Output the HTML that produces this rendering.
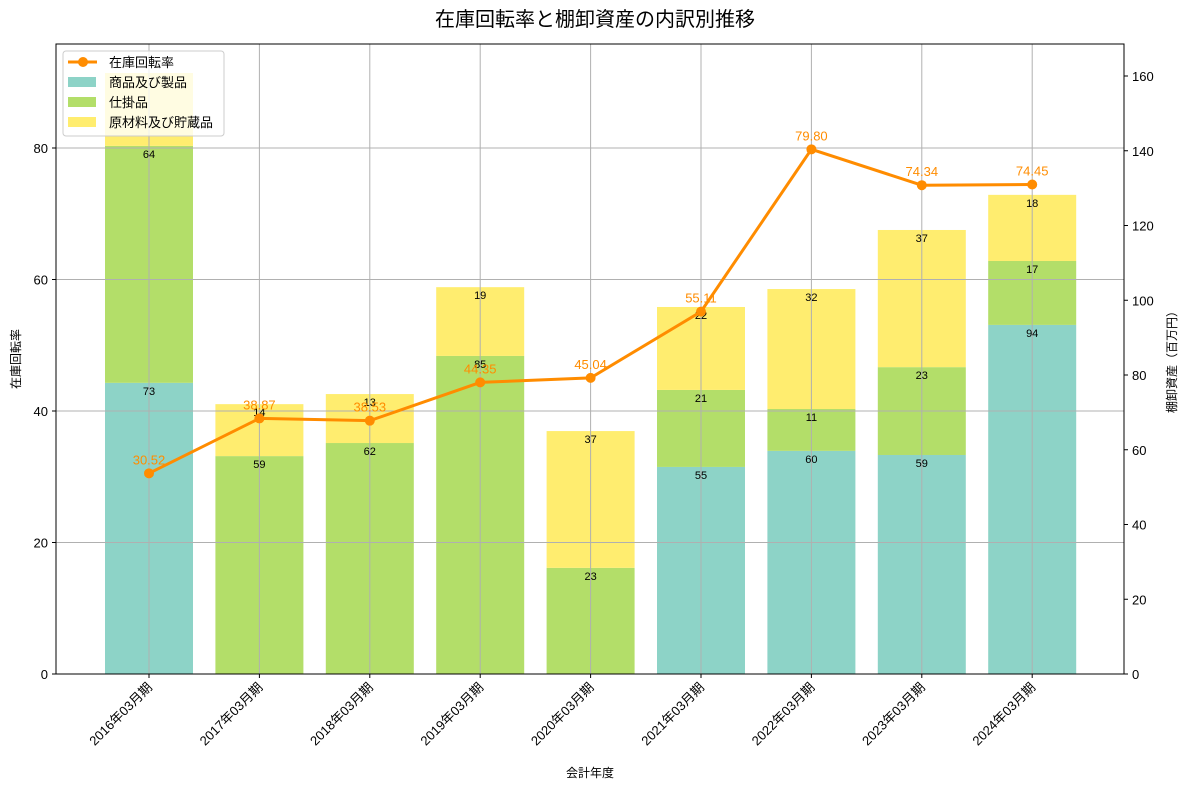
<!DOCTYPE html>
<html><head><meta charset="utf-8"><style>
body{margin:0;background:#fff}
svg text{font-family:"Liberation Sans","Noto Sans CJK JP",sans-serif}
</style></head><body>
<svg id="chart" width="1190" height="789" xmlns="http://www.w3.org/2000/svg"></svg>
<script>
const categories=["2016年03月期","2017年03月期","2018年03月期","2019年03月期","2020年03月期","2021年03月期","2022年03月期","2023年03月期","2024年03月期"];
const goods=[77.9,0,0,0,0,55.4,59.7,58.6,93.4];
const wip=[63.4,58.3,61.8,85.1,28.4,20.6,11.2,23.5,17.1];
const raw=[19.5,13.9,13.1,18.4,36.6,22.2,32.1,36.7,17.7];
const goodsLabels=["73","","","","","55","60","59","94"];
const wipLabels=["64","59","62","85","23","21","11","23","17"];
const rawLabels=["","14","13","19","37","22","32","37","18"];
const turnover=[30.52,38.87,38.53,44.35,45.04,55.11,79.80,74.34,74.45];
const leftTicks=[0,20,40,60,80];
const rightTicks=[0,20,40,60,80,100,120,140,160];

const svg=document.getElementById('chart');
const NS="http://www.w3.org/2000/svg";
const X0=56,X1=1124,Y0=674,Y1=44;
const yL=v=>Y0-v*6.575;
const yR=v=>Y0-v*3.7375;
const xC=i=>149+i*110.4;
const BW=88;
function mk(tag,attrs,parent,name,txt){const e=document.createElementNS(NS,tag);for(const k in attrs)e.setAttribute(k,attrs[k]);


if(txt!==undefined)e.textContent=txt;(parent||svg).appendChild(e);return e;}

mk('text',{x:595,y:26,'text-anchor':'middle','font-size':20,fill:'#000'},svg,'chart-title','在庫回転率と棚卸資産の内訳別推移');
// bars
categories.forEach((c,i)=>{
  const x=xC(i)-BW/2;
  let b=0;
  [[goods,'#8dd3c7','goods'],[wip,'#b3de69','wip'],[raw,'#ffed6f','raw']].forEach(([arr,col,n])=>{
    const v=arr[i];if(v>0){mk('rect',{x:x,y:yR(b+v),width:BW,height:yR(b)-yR(b+v),fill:col},svg,'bar-'+n+'-'+i);}
    b+=v;
  });
});
// grid
leftTicks.forEach((t,k)=>{mk('line',{x1:X0,x2:X1,y1:yL(t),y2:yL(t),stroke:'#b0b0b0','stroke-width':1},svg,'grid-h-'+k);});
categories.forEach((c,i)=>{mk('line',{x1:xC(i),x2:xC(i),y1:Y1,y2:Y0,stroke:'#b0b0b0','stroke-width':1},svg,'grid-v-'+i);});
// bar labels
categories.forEach((c,i)=>{
  let b=0;
  [[goods,goodsLabels],[wip,wipLabels],[raw,rawLabels]].forEach(([arr,lab],j)=>{
    b+=arr[i];
    if(lab[i]!=='')mk('text',{x:xC(i),y:yR(b)+12,'text-anchor':'middle','font-size':11,fill:'#000'},svg,'bar-label-'+j+'-'+i,lab[i]);
  });
});
// line
mk('polyline',{points:turnover.map((v,i)=>xC(i)+','+yL(v)).join(' '),fill:'none',stroke:'#ff8c00','stroke-width':3},svg,'turnover-line');
turnover.forEach((v,i)=>{
  mk('circle',{cx:xC(i),cy:yL(v),r:5,fill:'#ff8c00'},svg,'turnover-point-'+i);
  mk('text',{x:xC(i),y:yL(v)-9,'text-anchor':'middle','font-size':13,fill:'#ff8c00'},svg,'turnover-label-'+i,v.toFixed(2));
});
// axes frame
mk('rect',{x:X0,y:Y1,width:X1-X0,height:Y0-Y1,fill:'none',stroke:'#000','stroke-width':1},svg,'plot-frame');
leftTicks.forEach((t,k)=>{mk('line',{x1:X0-4,x2:X0,y1:yL(t),y2:yL(t),stroke:'#000'},svg,'left-tick-'+k);
 mk('text',{x:X0-8,y:yL(t)+5,'text-anchor':'end','font-size':13},svg,'left-tick-label-'+k,String(t));});
rightTicks.forEach((t,k)=>{mk('line',{x1:X1,x2:X1+4,y1:yR(t),y2:yR(t),stroke:'#000'},svg,'right-tick-'+k);
 mk('text',{x:X1+8,y:yR(t)+5,'text-anchor':'start','font-size':13},svg,'right-tick-label-'+k,String(t));});
categories.forEach((c,i)=>{mk('line',{x1:xC(i),x2:xC(i),y1:Y0,y2:Y0+4,stroke:'#000'},svg,'x-tick-'+i);
 mk('text',{x:xC(i)+4,y:Y0+14,'text-anchor':'end','font-size':13,transform:`rotate(-45 ${xC(i)+4} ${Y0+14})`},svg,'x-tick-label-'+i,c);});
mk('text',{x:590,y:777,'text-anchor':'middle','font-size':12},svg,'x-axis-title','会計年度');
mk('text',{x:20,y:359,'text-anchor':'middle','font-size':12,transform:'rotate(-90 20 359)'},svg,'left-axis-title','在庫回転率');
mk('text',{x:1176,y:359,'text-anchor':'middle','font-size':12,transform:'rotate(-90 1176 359)'},svg,'right-axis-title','棚卸資産（百万円）');
// legend
const lg=mk('g',{},svg,'legend');
mk('rect',{x:63,y:51,width:161,height:85,rx:3,fill:'#fff','fill-opacity':0.8,stroke:'#ccc'},lg,'legend-box');
mk('line',{x1:68,x2:97,y1:62,y2:62,stroke:'#ff8c00','stroke-width':3},lg,'legend-line-swatch');
mk('circle',{cx:83,cy:62,r:5,fill:'#ff8c00'},lg,'legend-marker');
mk('text',{x:109,y:67,'font-size':13},lg,'legend-turnover','在庫回転率');
[['#8dd3c7','商品及び製品'],['#b3de69','仕掛品'],['#ffed6f','原材料及び貯蔵品']].forEach(([c,t],k)=>{
  mk('rect',{x:68,y:77+k*20,width:28,height:10,fill:c},lg,'legend-swatch-'+k);
  mk('text',{x:109,y:87+k*20,'font-size':13},lg,'legend-entry-'+k,t);
});
</script>
</body></html>
